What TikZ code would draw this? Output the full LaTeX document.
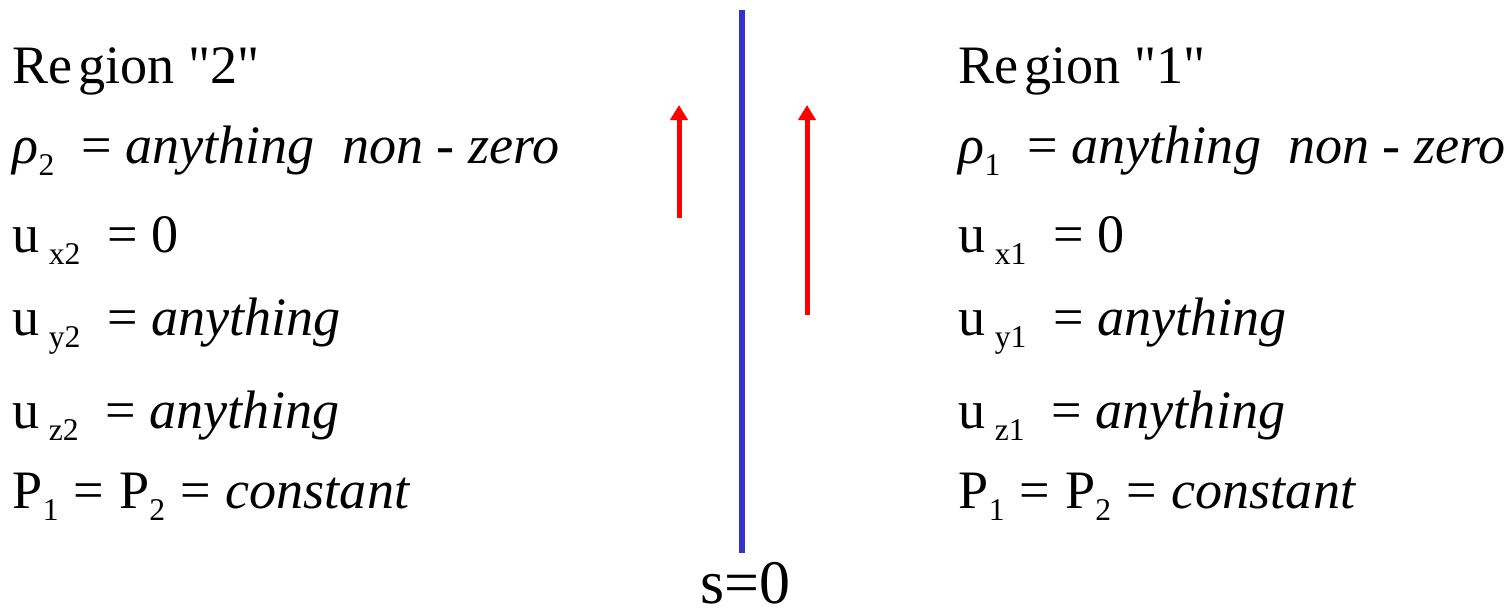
\documentclass[tikz,border=0pt]{standalone}
\usepackage{fontspec}
\setmainfont{Liberation Serif}[ItalicFont={Liberation Serif Italic}]
\newfontfamily\plainserif{Liberation Serif}
\usepackage{tikz}
\usetikzlibrary{arrows.meta, positioning}
\definecolor{wallblue}{RGB}{51,51,204}
\newcommand{\lowsub}[1]{\raisebox{-0.24em}{\fontsize{9}{10}\selectfont #1}}
\newcommand{\dq}{{\plainserif"}}

\begin{document}
\begin{tikzpicture}[
  eqline/.style={anchor=base west, inner sep=0pt, font=\fontsize{15.4}{18}\selectfont},
  flow/.style={-{Triangle[width=0.17cm, length=0.15cm]}, line width=0.05cm, red},
  surface/.style={line width=0.06cm, wallblue}
]
  \useasboundingbox (0,0) rectangle (15.1,-6.12);

  % region 2 (left)
  \node[eqline] (reg2) at (0.12,-0.83) {Re\hspace{0.1em}gion \dq2\dq};
  \node[eqline] (rho2) at (0.12,-1.63) {\textit{ρ}\lowsub{2}\enspace= \textit{anything}\enspace \textit{non} - \textit{zero}};
  \node[eqline] (ux2) at (0.12,-2.52) {u\,\lowsub{x2}\enspace= 0};
  \node[eqline] (uy2) at (0.12,-3.35) {u\,\lowsub{y2}\enspace= \textit{anything}};
  \node[eqline] (uz2) at (0.12,-4.28) {u\,\lowsub{z2}\enspace= \textit{anything}};
  \node[eqline] (p2) at (0.12,-5.08) {P\lowsub{1}\;=\;P\lowsub{2}\;=\;\textit{constant}};

  % region 1 (right)
  \node[eqline] (reg1) at (9.58,-0.83) {Re\hspace{0.1em}gion \dq1\dq};
  \node[eqline] (rho1) at (9.58,-1.63) {\textit{ρ}\lowsub{1}\enspace= \textit{anything}\enspace \textit{non} - \textit{zero}};
  \node[eqline] (ux1) at (9.58,-2.52) {u\,\lowsub{x1}\enspace= 0};
  \node[eqline] (uy1) at (9.58,-3.35) {u\,\lowsub{y1}\enspace= \textit{anything}};
  \node[eqline] (uz1) at (9.58,-4.28) {u\,\lowsub{z1}\enspace= \textit{anything}};
  \node[eqline] (p1) at (9.58,-5.08) {P\lowsub{1}\;=\;P\lowsub{2}\;=\;\textit{constant}};

  % interface s=0
  \node[anchor=base, inner sep=0pt, font=\fontsize{17.6}{20}\selectfont] (szero) at (7.45,-6.03) {s=0};
  \coordinate (walltop) at (7.42,-0.10);
  \coordinate (wallbot) at (7.42,-5.53);
  \draw[surface] (walltop) -- (wallbot);

  % flow arrows
  \coordinate (tail2) at (6.79,-2.18);
  \coordinate (tip2) at (6.79,-1.05);
  \coordinate (tail1) at (8.07,-3.15);
  \coordinate (tip1) at (8.07,-1.05);
  \draw[flow] (tail2) -- (tip2);
  \draw[flow] (tail1) -- (tip1);
\end{tikzpicture}
\end{document}
